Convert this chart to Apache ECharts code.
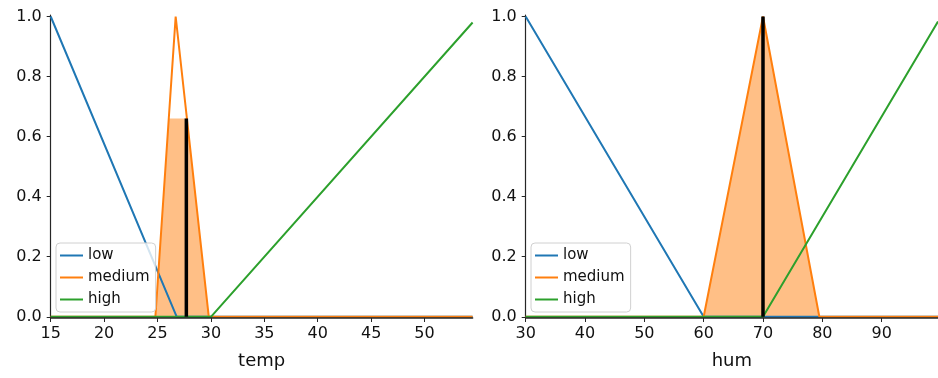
<!DOCTYPE html>
<html>
<head>
<meta charset="utf-8">
<script src="https://cdn.jsdelivr.net/npm/echarts@6/dist/echarts.min.js"></script>
<style>
    html, body { margin: 0; padding: 0; background: #fff; }
    #chart { width: 938px; height: 378px; }
</style>
</head>
<body>
<div id="chart"></div>
<script>
// temp 隶属函数
const tempLow = [[15, 1], [26.8, 0], [54.5, 0]]
const tempMedium = [[15, 0], [24.8, 0], [26.7, 1], [29.8, 0], [54.5, 0]]
const tempHigh = [[15, 0], [30, 0], [54.5, 0.98]]
const tempFill = [[24.8, 0], [26.05, 0.66], [27.75, 0.66], [29.8, 0]]
const tempCrisp = [[27.7, 0], [27.7, 0.66]]
const tempTicks = [15, 20, 25, 30, 35, 40, 45, 50]

// hum 隶属函数
const humLow = [[30, 1], [60, 0], [99.5, 0]]
const humMedium = [[30, 0], [60, 0], [70, 1], [79.5, 0], [99.5, 0]]
const humHigh = [[30, 0], [70, 0], [99.5, 0.983]]
const humFill = [[60, 0], [70, 1], [79.5, 0]]
const humCrisp = [[70, 0], [70, 1]]
const humTicks = [30, 40, 50, 60, 70, 80, 90]

const yTicks = [0, 0.2, 0.4, 0.6, 0.8, 1.0]
const names = ['low', 'medium', 'high']
const colors = ['#1f77b4', '#ff7f0e', '#2ca02c']

const font = 'DejaVu Sans'
const axisColor = '#262626'

const chart = echarts.init(document.getElementById('chart'))

function xAxisOf (idx, min, max, ticks, name) {
    return {
        type: 'value',
        gridIndex: idx,
        min: min,
        max: max,
        z: 5, // 坐标轴盖在零值线上面
        name: name,
        nameLocation: 'middle',
        nameGap: 34,
        nameTextStyle: { fontFamily: font, fontSize: 18, color: '#111' },
        axisLine: { onZero: false, lineStyle: { color: axisColor, width: 1.6 } },
        axisTick: { customValues: ticks, length: 4, lineStyle: { color: axisColor } },
        axisLabel: { customValues: ticks, margin: 8, fontFamily: font, fontSize: 16, color: '#111' },
        splitLine: { show: false }
    }
}

function yAxisOf (idx) {
    return {
        type: 'value',
        gridIndex: idx,
        min: -0.004,
        max: 1.005,
        axisLine: { show: true, lineStyle: { color: axisColor, width: 1.2 } },
        axisTick: { show: true, customValues: yTicks, length: 4, lineStyle: { color: axisColor } },
        axisLabel: {
            customValues: yTicks,
            margin: 9,
            fontFamily: font,
            fontSize: 16,
            color: '#111',
            formatter: v => v.toFixed(1)
        },
        splitLine: { show: false }
    }
}

function lineSeries (idx, name, data, color) {
    return {
        name: name,
        type: 'line',
        xAxisIndex: idx,
        yAxisIndex: idx,
        data: data,
        symbol: 'none',
        lineStyle: { color: color, width: 2 },
        itemStyle: { color: color },
        animation: false
    }
}

function fillSeries (idx, data) {
    return {
        type: 'line',
        xAxisIndex: idx,
        yAxisIndex: idx,
        data: data,
        symbol: 'none',
        lineStyle: { width: 0 },
        areaStyle: { color: 'rgba(255,127,14,0.5)', opacity: 1, origin: 0 },
        animation: false
    }
}

function crispSeries (idx, data) {
    return {
        type: 'line',
        xAxisIndex: idx,
        yAxisIndex: idx,
        data: data,
        symbol: 'none',
        lineStyle: { color: '#000', width: 3.5 },
        animation: false
    }
}

function legendOf (left) {
    return {
        orient: 'vertical',
        left: left,
        top: 243,
        z: 6,
        data: names,
        icon: 'rect',
        itemWidth: 23,
        itemHeight: 2,
        itemGap: 7,
        padding: [5, 6, 5, 4],
        backgroundColor: 'rgba(255,255,255,0.8)',
        borderColor: '#d0d0d0',
        borderWidth: 1,
        borderRadius: 4,
        selectedMode: false,
        textStyle: { fontFamily: font, fontSize: 15, color: '#111' }
    }
}

chart.setOption({
    animation: false,
    grid: [
        { left: 50.7, top: 15, width: 421.9, height: 303 },
        { left: 525.7, top: 15, width: 418.2, height: 303 }
    ],
    legend: [legendOf(56), legendOf(531)],
    xAxis: [
        xAxisOf(0, 15, 54.5, tempTicks, 'temp'),
        xAxisOf(1, 30, 99.5, humTicks, 'hum')
    ],
    yAxis: [yAxisOf(0), yAxisOf(1)],
    series: [
        lineSeries(0, names[0], tempLow, colors[0]),
        lineSeries(0, names[1], tempMedium, colors[1]),
        lineSeries(0, names[2], tempHigh, colors[2]),
        fillSeries(0, tempFill),
        crispSeries(0, tempCrisp),
        lineSeries(1, names[0], humLow, colors[0]),
        lineSeries(1, names[1], humMedium, colors[1]),
        lineSeries(1, names[2], humHigh, colors[2]),
        fillSeries(1, humFill),
        crispSeries(1, humCrisp)
    ]
})
</script>
</body>
</html>
